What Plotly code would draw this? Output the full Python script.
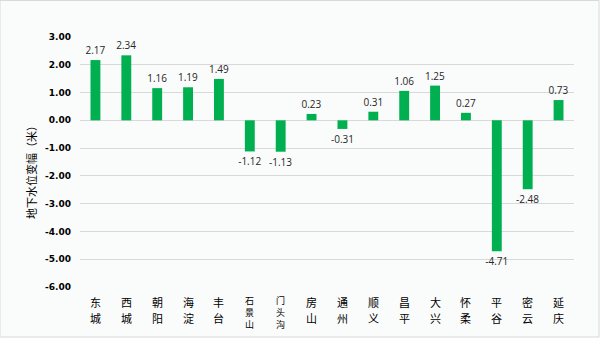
import plotly.graph_objects as go

districts = ["东城", "西城", "朝阳", "海淀", "丰台", "石景山", "门头沟", "房山",
             "通州", "顺义", "昌平", "大兴", "怀柔", "平谷", "密云", "延庆"]
values = [2.17, 2.34, 1.16, 1.19, 1.49, -1.12, -1.13, 0.23,
          -0.31, 0.31, 1.06, 1.25, 0.27, -4.71, -2.48, 0.73]
y_ticks = [3, 2, 1, 0, -1, -2, -3, -4, -5, -6]
y_title = "地下水位变幅（米）"

PLOT_TOP, PLOT_BOTTOM = 37, 287
PLOT_H = PLOT_BOTTOM - PLOT_TOP

fig = go.Figure()
fig.add_trace(go.Bar(
    x=districts, y=values,
    marker=dict(color="#00b050", line=dict(width=0)),
    width=0.32,
    text=[f"{v:.2f}" for v in values],
    textposition="outside",
    constraintext="none",
    cliponaxis=False,
    textfont=dict(family="Open Sans, DejaVu Sans, sans-serif", size=10, color="#262626"),
))

annotations = [dict(
    text=y_title, xref="paper", yref="paper",
    x=-0.1, y=0.47, xanchor="center", yanchor="middle",
    textangle=-90, showarrow=False,
    font=dict(family="Noto Sans CJK SC", size=11, color="#000000"),
)]
for d in districts:
    if len(d) == 2:
        rows, fs = [302, 318], 11
    else:
        rows, fs = [300, 312, 324], 9
    for ch, py in zip(d, rows):
        annotations.append(dict(
            text=ch, x=d, xref="x", y=(PLOT_BOTTOM - py) / PLOT_H, yref="paper",
            xanchor="center", yanchor="middle", showarrow=False, borderpad=0,
            font=dict(family="Noto Sans CJK SC", size=fs, color="#000000"),
        ))

fig.update_layout(
    width=600, height=338,
    margin=dict(l=80, r=26, t=PLOT_TOP, b=338 - PLOT_BOTTOM, autoexpand=False),
    paper_bgcolor="#fafbfb",
    plot_bgcolor="#fafbfb",
    showlegend=False,
    xaxis=dict(
        showticklabels=False, automargin=False,
        showgrid=False, zeroline=False, showline=False, ticks="",
    ),
    yaxis=dict(
        range=[-6, 3], tickmode="array", tickvals=y_ticks,
        ticktext=[f"{v:.2f}" for v in y_ticks],
        tickfont=dict(family="DejaVu Sans", size=9, color="#000000", weight="bold"),
        showgrid=True, gridcolor="#d9d9d9", gridwidth=1,
        zeroline=True, zerolinecolor="#d9d9d9", zerolinewidth=1,
        showline=False, ticks="", ticklabelstandoff=8, automargin=False,
    ),
    annotations=annotations,
    shapes=[dict(type="rect", xref="paper", yref="paper",
                 x0=-80/494, x1=1+25/494, y0=-50/PLOT_H, y1=1+36.5/PLOT_H,
                 line=dict(color="#d9d9d9", width=1))],
)

fig.write_html("out.html")
